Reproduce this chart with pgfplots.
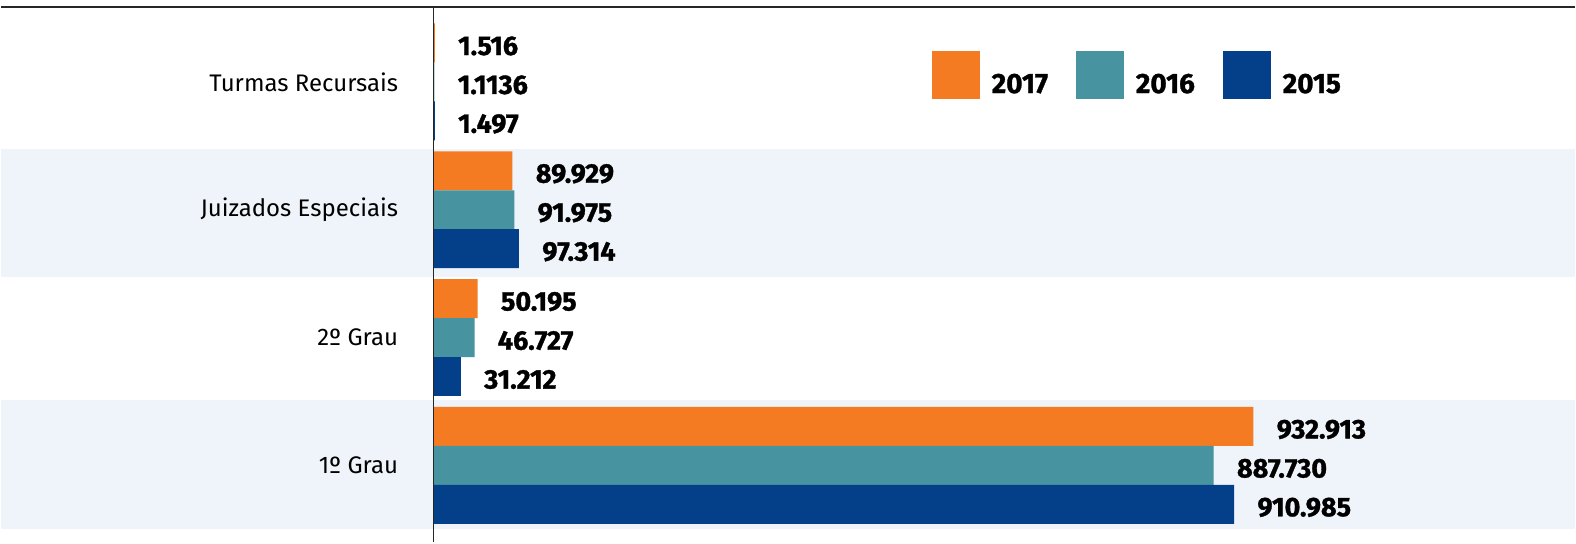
\documentclass[border=0pt]{standalone}
\usepackage{pgfplots}
\pgfplotsset{compat=1.18}
\usepackage{fontspec}
\setmainfont{Fira Sans}
\newfontfamily\heavy{Fira Sans}[BoldFeatures={FakeBold=1.2}]
\definecolor{c17}{HTML}{F47B21}
\definecolor{c16}{HTML}{4893A0}
\definecolor{c15}{HTML}{043F89}
\definecolor{band}{HTML}{EFF3FA}
\definecolor{lineg}{HTML}{262626}
\begin{document}
\begin{tikzpicture}
\begin{axis}[
  width=788pt, height=271.5pt, scale only axis,
  xmin=-492.05, xmax=1298.86,
  ymin=-0.6016, ymax=3.6406,
  axis line style={draw=none},
  xtick=\empty, ytick=\empty,
  xbar, bar width=19.5pt,
  point meta=explicit symbolic,
  nodes near coords,
  nodes near coords style={anchor=west, xshift=11.5pt, yshift=-1.5pt, inner sep=0pt, font=\heavy\fontsize{13.5}{15}\selectfont\bfseries, text=black},
  legend columns=3,
  legend style={draw=none, fill=none, inner sep=0pt, outer sep=0pt,
    at={(axis cs:567.05,3.2422)}, anchor=north west,
    nodes={inner sep=0pt}, font=\heavy\fontsize{14}{16}\selectfont\bfseries,
    /tikz/every odd column/.append style={column sep=6pt},
    /tikz/every even column/.append style={column sep=14pt}},
  legend image code/.code={\fill[#1] (0pt,-7pt) rectangle (24pt,17pt);},
  clip=false,
]
\fill[band] (axis cs:-492.05,1.4766) rectangle (axis cs:1298.86,2.4766);
\fill[band] (axis cs:-492.05,-0.5) rectangle (axis cs:1298.86,0.5078);
\addplot[fill=c17, draw=none, bar shift=19.5pt] table[meta=lab] {
x y lab
932.913 0 932.913
50.195 1 50.195
89.929 2 89.929
1.516 3 1.516
};
\addplot[fill=c16, draw=none, bar shift=0pt] table[meta=lab] {
x y lab
887.730 0 887.730
46.727 1 46.727
91.975 2 91.975
1.136 3 1.1136
};
\addplot[fill=c15, draw=none, bar shift=-19.5pt] table[meta=lab] {
x y lab
910.985 0 910.985
31.212 1 31.212
97.314 2 97.314
1.497 3 1.497
};
\legend{2017,2016,2015}
\draw[lineg, line width=1pt] (axis cs:-492.05,3.5859) -- (axis cs:1298.86,3.5859);
\draw[lineg, line width=0.75pt] (axis cs:0,3.5859) -- (axis cs:0,-0.6016);
\begin{scope}[font=\fontsize{12}{15}\selectfont, inner sep=0pt]
\node[anchor=east] at (axis cs:-39.8,3) {Turmas Recursais};
\node[anchor=east] at (axis cs:-39.8,2) {Juizados Especiais};
\node[anchor=east] at (axis cs:-39.8,1) {2º Grau};
\node[anchor=east] at (axis cs:-39.8,0) {1º Grau};
\end{scope}
\end{axis}
\end{tikzpicture}
\end{document}
